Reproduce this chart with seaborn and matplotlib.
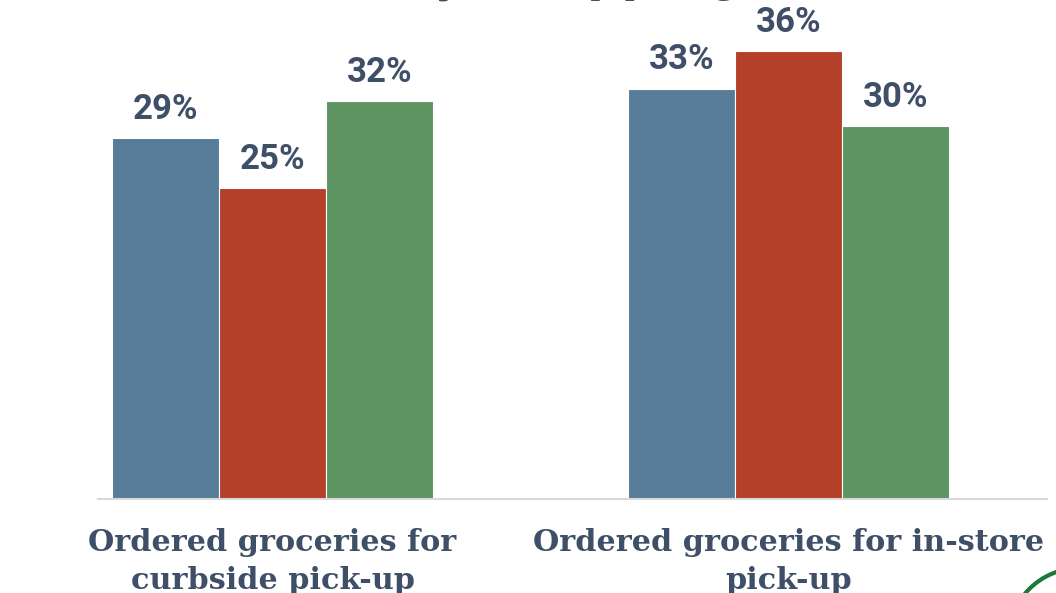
import matplotlib
matplotlib.use("Agg")
import matplotlib.pyplot as plt
from matplotlib.patches import Ellipse
import seaborn as sns
import pandas as pd

# Survey results: share of respondents per activity
categories = ["Ordered groceries for\ncurbside pick-up",
              "Ordered groceries for in-store\npick-up"]
series = ["Series A", "Series B", "Series C"]
values_a = [29, 33]
values_b = [25, 36]
values_c = [32, 30]
palette = ["#567c99", "#b5402a", "#5e9362"]
text_color = "#3f4f68"
sans = ["Roboto", "DejaVu Sans"]

rows = []
for name, vals in zip(series, [values_a, values_b, values_c]):
    for cat, v in zip(categories, vals):
        rows.append({"category": cat, "series": name, "value": v})
df = pd.DataFrame(rows)

sns.set_theme(style="white")
plt.rcParams["font.family"] = sans

fig = plt.figure(figsize=(10.56, 5.93), dpi=100)
ax = fig.add_axes([0.0, 0.1585, 1.0, 0.8415])

sns.barplot(data=df, x="category", y="value", hue="series", order=categories,
            hue_order=series, palette=palette, width=0.622, gap=0,
            edgecolor="white", linewidth=0.8, saturation=1, legend=False, ax=ax)

for container in ax.containers:
    ax.bar_label(container, labels=[f"{int(v)}%" for v in container.datavalues],
                 padding=9, fontsize=25, fontweight="bold", color=text_color,
                 family=sans)

ax.set_xlim(-0.528, 1.518)
ax.set_ylim(0, 40.14)
ax.set_xlabel("")
ax.set_ylabel("")
ax.set_yticks([])
for side in ["left", "right", "top"]:
    ax.spines[side].set_visible(False)
ax.spines["bottom"].set_color("#d9d9d9")
ax.spines["bottom"].set_linewidth(1.5)
ax.spines["bottom"].set_bounds(-0.338, 1.501)
ax.tick_params(axis="x", length=0, pad=21)
for lbl in ax.get_xticklabels():
    lbl.set_family(["DejaVu Serif"])
    lbl.set_fontweight("bold")
    lbl.set_fontsize(21.8)
    lbl.set_color(text_color)
    lbl.set_linespacing(1.38)

# Slide title running off the top edge
fig.text(0.237, 1.0196, "Grocery Shopping", fontsize=44, fontweight="bold",
         color=text_color, ha="left", va="baseline", family=sans)

# Corner logo ring
fig.patches.append(Ellipse((1.0227, -0.0793), 0.136, 0.243, transform=fig.transFigure,
                           fill=False, edgecolor="#1b7a3a", linewidth=3, figure=fig))

fig.savefig("out.png", dpi=100)
